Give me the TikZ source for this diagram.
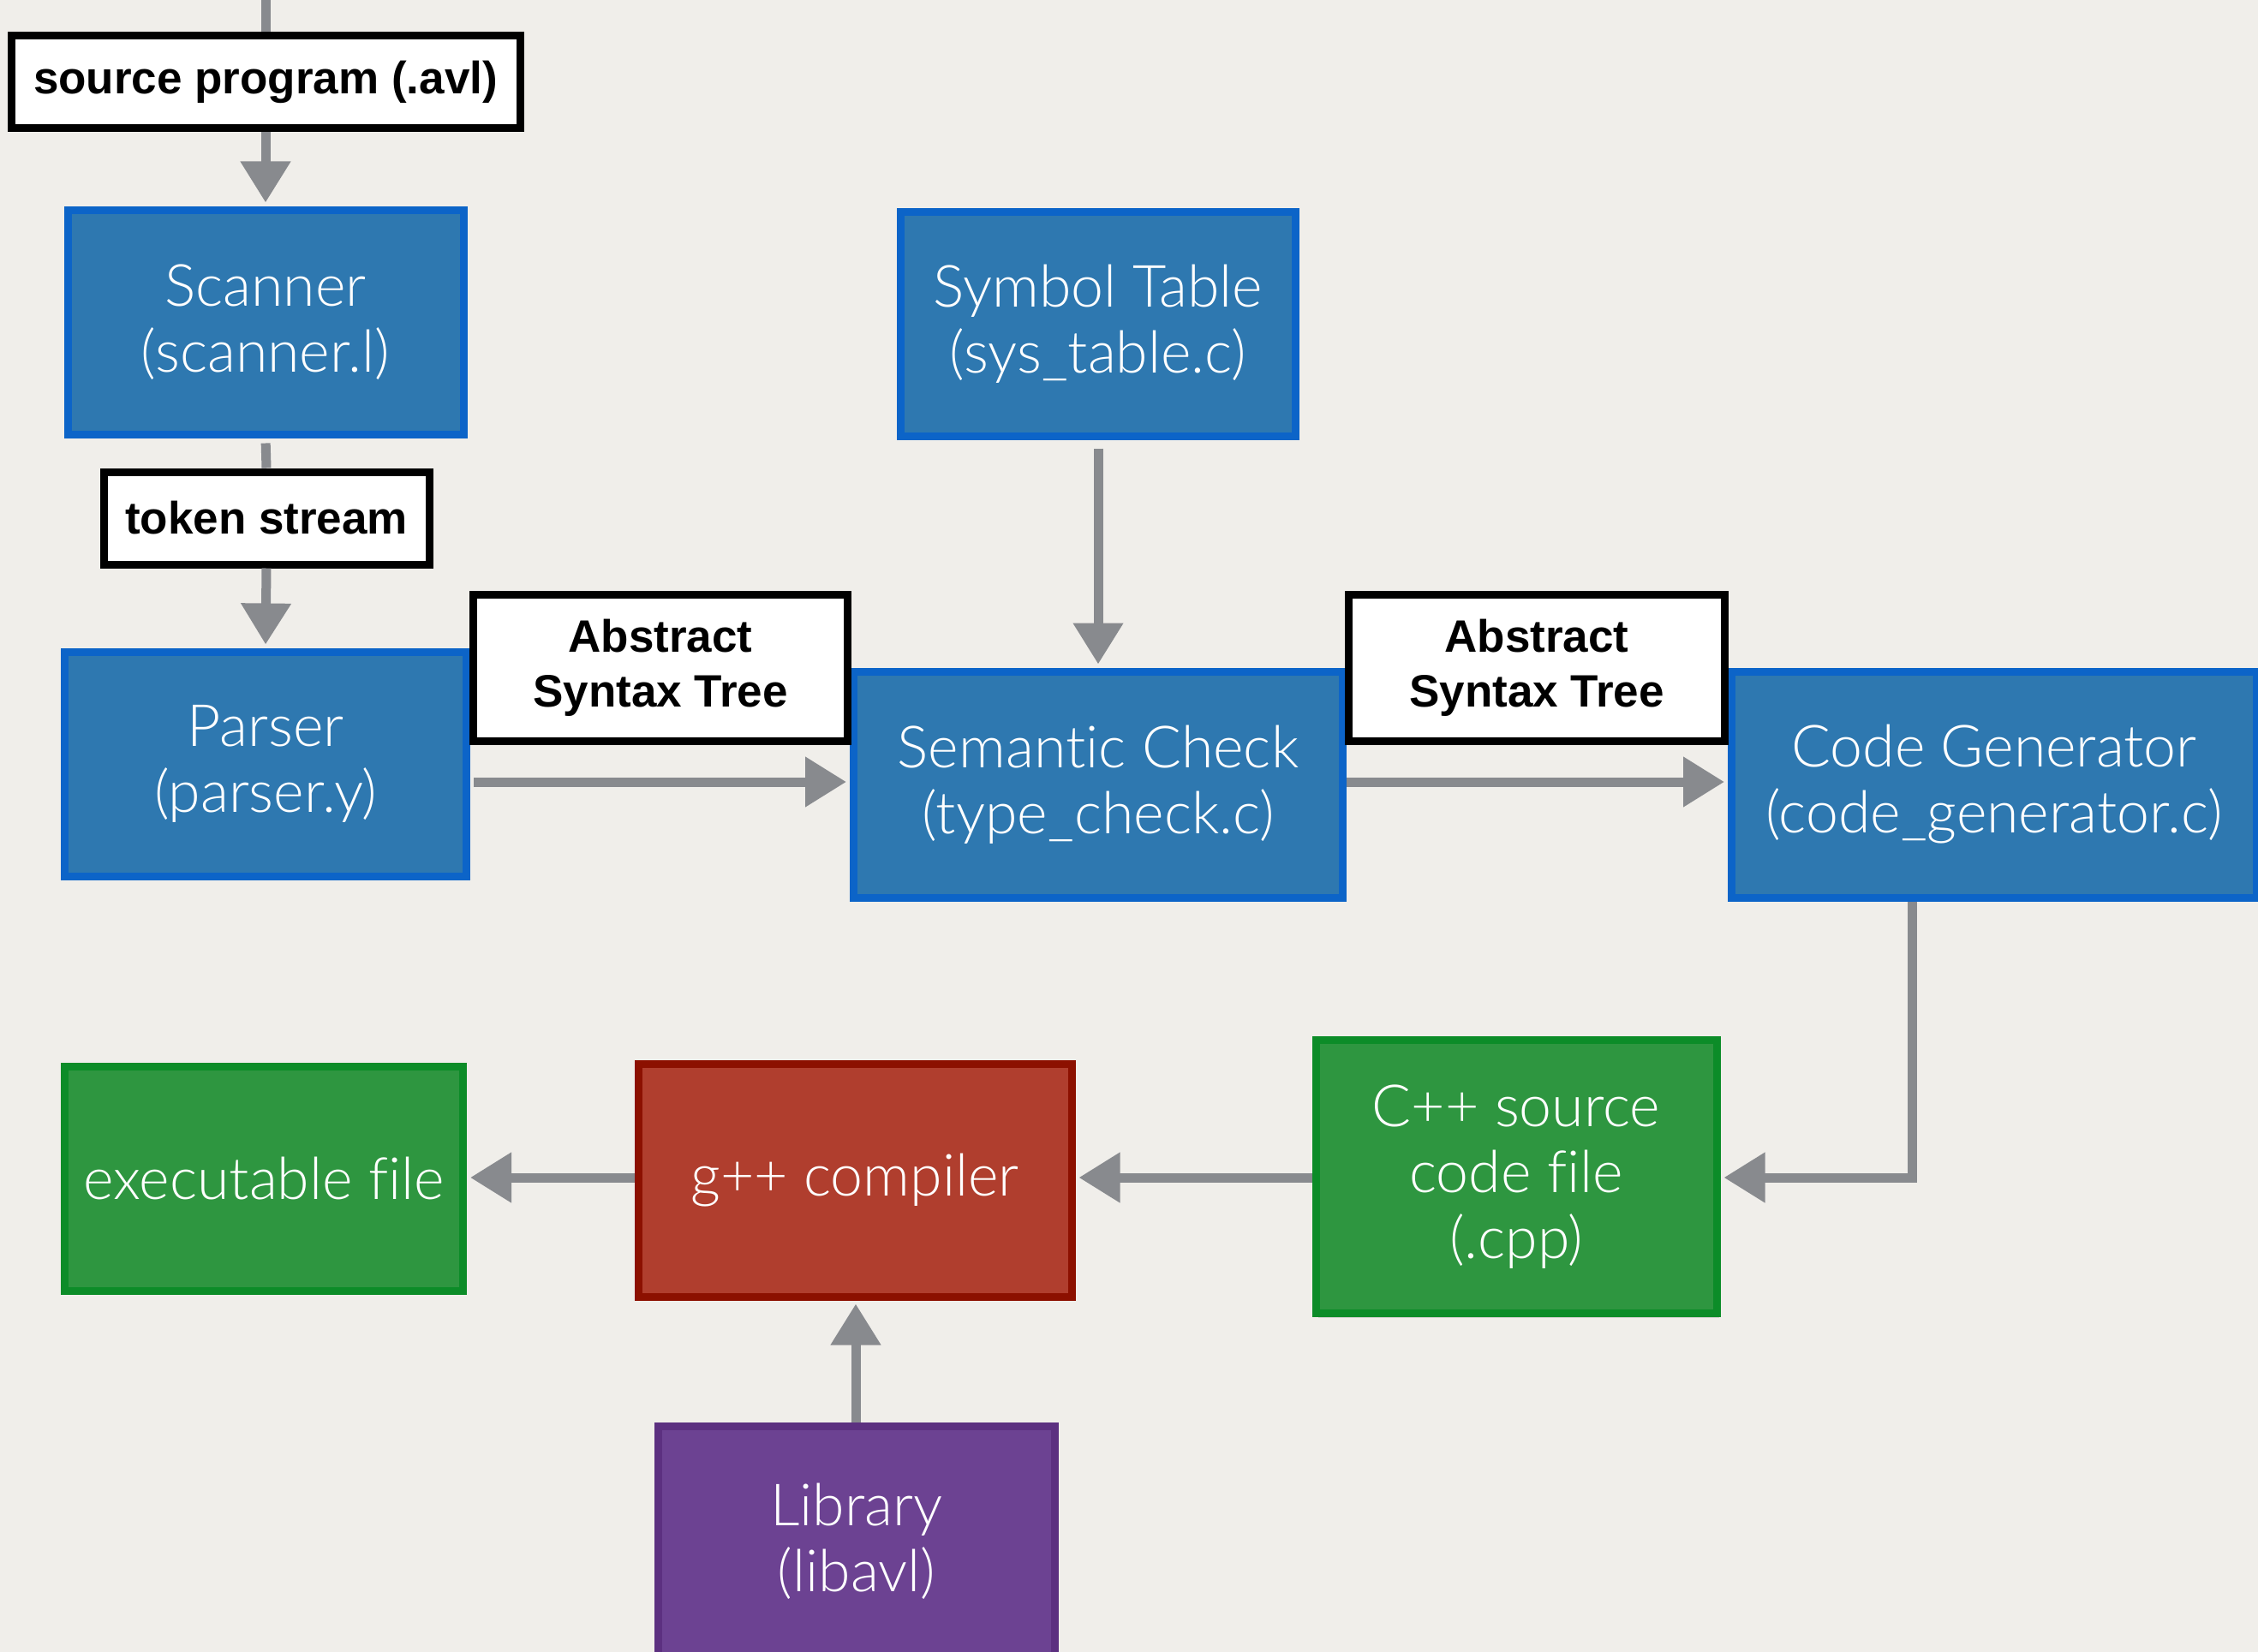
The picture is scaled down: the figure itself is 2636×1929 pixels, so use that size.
\documentclass[tikz,border=0pt]{standalone}
\usepackage{fontspec}
\setmainfont{Liberation Sans}
\newfontfamily\boxfont{Lato Light}[Ligatures=NoCommon]
\newfontfamily\labfont{Liberation Sans}
\usetikzlibrary{arrows.meta,shadows}
\definecolor{bgcol}{RGB}{240,238,234}
\definecolor{bluefill}{RGB}{46,120,176}
\definecolor{blueline}{RGB}{12,100,200}
\definecolor{greenfill}{RGB}{46,150,64}
\definecolor{greenline}{RGB}{12,140,40}
\definecolor{redfill}{RGB}{176,62,46}
\definecolor{redline}{RGB}{140,16,0}
\definecolor{purpfill}{RGB}{108,66,146}
\definecolor{purpline}{RGB}{92,48,128}
\definecolor{arrcol}{RGB}{136,138,142}
\tikzset{
  procbox/.style={draw, line width=9pt, inner sep=0pt, text=white, align=center,
    font=\boxfont\fontsize{68}{77}\selectfont,
    drop shadow={shadow xshift=3pt, shadow yshift=-5pt, opacity=0.25}},
  bluebox/.style={procbox, fill=bluefill, draw=blueline},
  greenbox/.style={procbox, fill=greenfill, draw=greenline},
  redbox/.style={procbox, fill=redfill, draw=redline},
  purpbox/.style={procbox, fill=purpfill, draw=purpline},
  labbox/.style={draw=black, line width=9pt, inner sep=0pt, align=center,
    font=\labfont\bfseries\fontsize{53}{64}\selectfont},
  flow/.style={draw=arrcol, line width=11pt},
  flowhead/.style={flow, -{Triangle[width=56pt,length=48pt]}, shorten >=4pt},
}
\begin{document}
\begin{tikzpicture}[x=1pt,y=-1pt]
\fill[bgcol] (0,0) rectangle (2636,1929);
\useasboundingbox (0,0) rectangle (2636,1929);
\clip (0,0) rectangle (2636,1929);

% nodes
\node[labbox, fill=white, minimum width=594pt, minimum height=108pt] (src) at (310,96) {source program (.avl)};
\node[bluebox, minimum width=462pt, minimum height=262pt] (scan) at (310,376) {Scanner\\(scanner.l)};
\node[labbox, fill=white, minimum width=380pt, minimum height=108pt] (tok) at (311,605) {token stream};
\node[bluebox, minimum width=469pt, minimum height=262pt] (parse) at (310,892) {Parser\\(parser.y)};
\node[bluebox, minimum width=461pt, minimum height=262pt] (sym) at (1282,378) {Symbol Table\\(sys\_table.c)};
\node[bluebox, minimum width=571pt, minimum height=264pt] (sem) at (1282,916) {Semantic Check\\(type\_check.c)};
\node[bluebox, minimum width=613pt, minimum height=264pt] (cg) at (2328,916) {Code Generator\\(code\_generator.c)};
\node[labbox, fill=white, minimum width=437pt, minimum height=171pt] (ast1) at (771,780) {Abstract\\Syntax Tree};
\node[labbox, fill=white, minimum width=439pt, minimum height=171pt] (ast2) at (1794,780) {Abstract\\Syntax Tree};
\node[greenbox, minimum width=468pt, minimum height=319pt] (cpp) at (1770,1374) {C++ source\\code file\\(.cpp)};
\node[redbox, minimum width=506pt, minimum height=272pt] (gpp) at (998,1378) {g++ compiler};
\node[greenbox, minimum width=465pt, minimum height=262pt] (exe) at (308,1376) {executable file};
\node[purpbox, minimum width=463pt, minimum height=270pt] (lib) at (1000,1800) {Library\\(libavl)};

\coordinate (top) at (310,0);
\coordinate (cgturn) at (2232,1375);

% connectors
\draw[flow] (top) -- (src.north);
\draw[flowhead] (src.south) -- (scan.north);
\draw[flow, shorten <=6pt] (scan.south) -- (tok.north);
\draw[flowhead] (tok.south) -- (parse.north);
\draw[flowhead, shorten <=4pt] ([yshift=-21pt]parse.east) -- ([yshift=-21pt]parse.east -| sem.west);
\draw[flowhead] ([yshift=3pt]sem.east) -- ([yshift=3pt]sem.east -| cg.west);
\draw[flowhead, shorten <=10pt] (sym.south) -- (sem.north);
\draw[flowhead] (cg.south -| cgturn) -- (cgturn) -- (cgturn -| cpp.east);
\draw[flowhead] (cpp.west |- cgturn) -- (cgturn -| gpp.east);
\draw[flowhead] (gpp.west |- cgturn) -- (cgturn -| exe.east);
\draw[flowhead] (lib.north -| 999,0) -- (gpp.south -| 999,0);
\end{tikzpicture}
\end{document}
